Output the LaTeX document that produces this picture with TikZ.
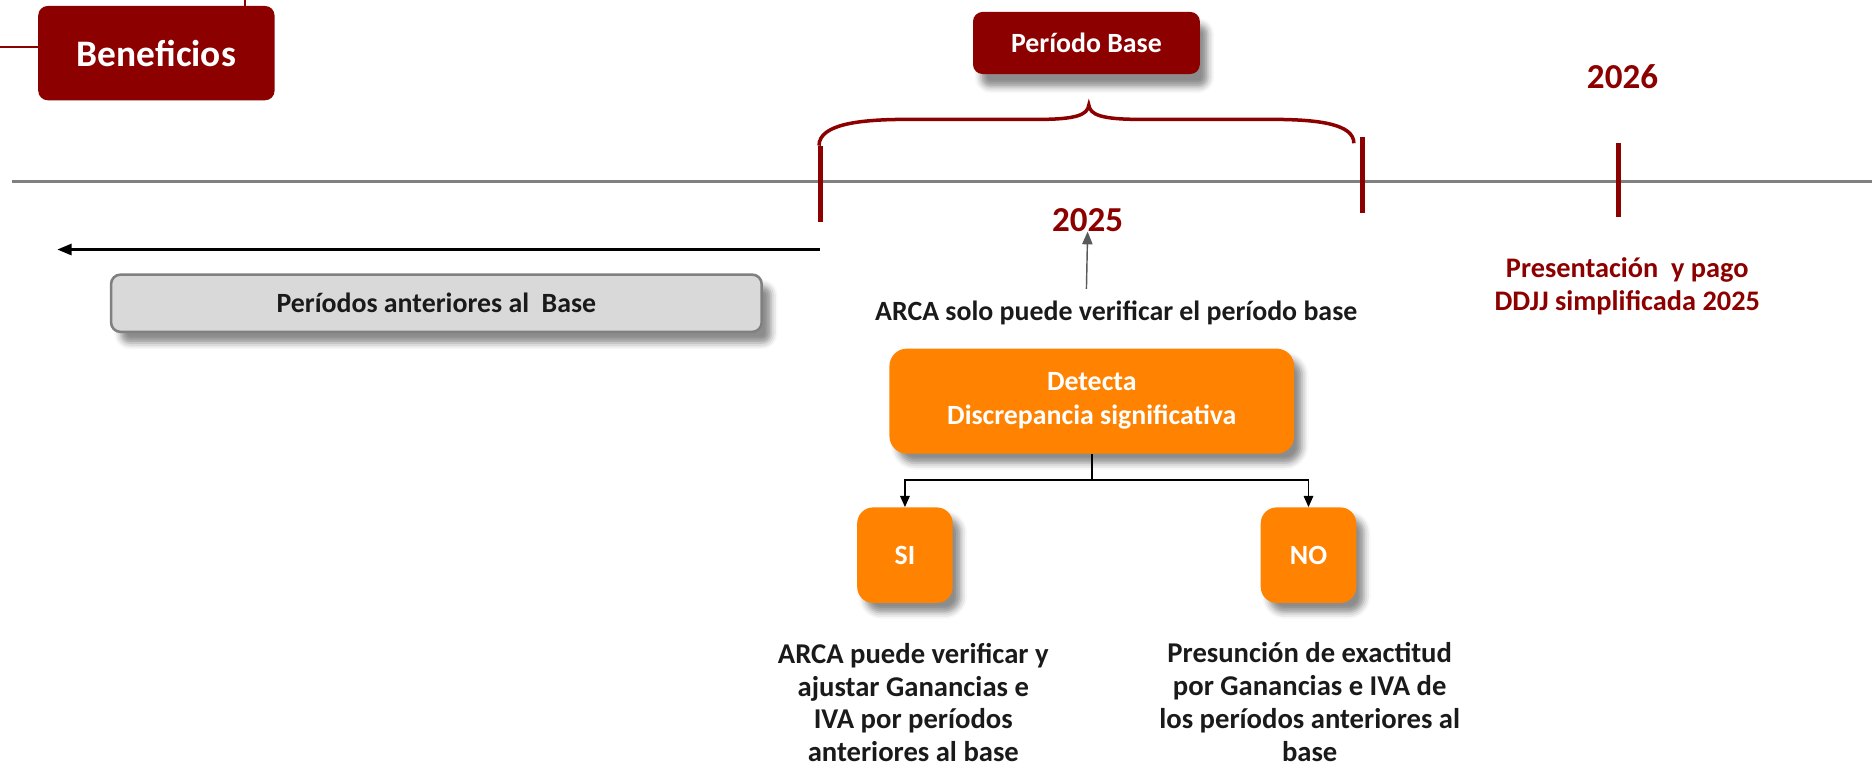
\documentclass[tikz,border=0pt]{standalone}
\usepackage{fontspec}
\setmainfont{Carlito}
\usetikzlibrary{arrows.meta,shadows.blur}
\definecolor{dred}{RGB}{140,0,0}
\definecolor{orng}{RGB}{255,130,0}
\definecolor{lgray}{RGB}{217,217,217}
\definecolor{mgray}{RGB}{128,128,128}
\definecolor{txt}{RGB}{26,26,26}
\tikzset{
  redbox/.style={rounded corners=6pt, fill=dred, text=white, font=\bfseries\fontsize{17.5}{21}\selectfont, inner sep=0pt, align=center},
  orbox/.style={rounded corners=11pt, fill=orng, text=white, font=\bfseries\fontsize{17.5}{21.5}\selectfont, inner sep=0pt, align=center,
     blur shadow={shadow xshift=5pt, shadow yshift=-6pt, shadow blur radius=4pt, shadow opacity=45}},
  graybox/.style={rounded corners=6pt, fill=lgray, draw=mgray, line width=1.6pt, text=txt, font=\bfseries\fontsize{17.5}{21}\selectfont, inner sep=0pt,
     blur shadow={shadow xshift=6pt, shadow yshift=-7pt, shadow blur radius=4pt, shadow opacity=45}},
  plain/.style={text=txt, font=\bfseries\fontsize{17.5}{21}\selectfont, align=center, inner sep=0pt},
  bottomtext/.style={text=txt, font=\bfseries\fontsize{18}{20.6}\selectfont, align=center, inner sep=0pt},
  redtext/.style={text=dred, font=\bfseries\fontsize{17.8}{21}\selectfont, align=center, inner sep=0pt},
  yeartext/.style={text=dred, font=\bfseries\fontsize{22}{26}\selectfont, inner sep=0pt},
  tick/.style={draw=dred, line width=3.2pt},
  timeline/.style={draw=mgray, line width=2pt},
  thinred/.style={draw=dred, line width=1.2pt},
  conn/.style={draw=black, line width=0.9pt, -{Triangle[length=7pt,width=6pt]}},
}
\begin{document}
\begin{tikzpicture}[x=0.75pt,y=-0.75pt]
\useasboundingbox (0,0) rectangle (1568,641);
% timeline
\coordinate (tlL) at (10,152);
\coordinate (tlR) at (1568,152);
\draw[timeline] (tlL) -- (tlR);
% ticks
\coordinate (t1a) at (687,122); \coordinate (t1b) at (687,186);
\coordinate (t2a) at (1141,115); \coordinate (t2b) at (1141,178);
\coordinate (t3a) at (1356,120); \coordinate (t3b) at (1356,182);
\draw[tick] (t1a) -- (t1b);
\draw[tick] (t2a) -- (t2b);
\draw[tick] (t3a) -- (t3b);
% brace
\draw[dred, line width=2.2pt] (686,122) .. controls (686,104) and (720,100) .. (760,100)
  -- (870,100) .. controls (902,100) and (911,96) .. (912,88)
  .. controls (913,96) and (922,100) .. (955,100)
  -- (1065,100) .. controls (1105,100) and (1134,104) .. (1134,120);
% Beneficios
\node[redbox, minimum width=148.5pt, minimum height=59.25pt, font=\bfseries\fontsize{23.5}{27}\selectfont] (ben) at (131,44.5) {Beneficios};
\coordinate (benL) at (0,39);
\coordinate (benT) at (205,0);
\draw[thinred] (benL) -- (benL -| ben.west);
\draw[thinred] (benT) -- (benT |- ben.north);
% Periodo Base
\node[redbox, minimum width=142.5pt, minimum height=39pt,
  blur shadow={shadow xshift=5pt, shadow yshift=-8pt, shadow blur radius=4pt, shadow opacity=45}] (pb) at (910,36) {Período Base};
% years
\node[yeartext] (y25) at (911,184) {2025};
\node[yeartext] (y26) at (1359,64) {2026};
% left arrow
\coordinate (arS) at (687,209);
\coordinate (arE) at (48,209);
\draw[line width=1.6pt, -{Triangle[length=9pt,width=7pt]}] (arS) -- (arE);
% periods before
\node[graybox, minimum width=408.75pt, minimum height=36pt] (ant) at (365.5,254) {Períodos anteriores al\ \ Base};
% ARCA solo
\node[plain] (arca) at (935,262) {ARCA solo puede verificar el período base};
\coordinate (upS) at (910,242);
\draw[draw=mgray!70!black, line width=0.9pt, -{Triangle[length=8pt,width=6.5pt]}] (upS) -- (y25.south);
% Detecta
\node[orbox, minimum width=254.25pt, minimum height=66pt] (det) at (914.5,336) {Detecta\\Discrepancia significativa};
\node[orbox, rounded corners=10pt, minimum width=60pt, minimum height=60pt] (si) at (758,465) {SI};
\node[orbox, rounded corners=10pt, minimum width=60pt, minimum height=60pt] (no) at (1096,465) {NO};
\coordinate (jn) at (914.5,402);
\draw[line width=0.9pt] (det.south) -- (jn);
\draw[conn] (jn) -| (si.north);
\draw[conn] (jn) -| (no.north);
% bottom texts
\node[bottomtext] (siT) at (765,588.5) {ARCA puede verificar y\\ajustar Ganancias e\\IVA por períodos\\anteriores al base};
\node[bottomtext] (noT) at (1097,588) {Presunción de exactitud\\por Ganancias e IVA de\\los períodos anteriores al\\base};
% presentacion
\node[redtext] (pres) at (1363,240) {Presentación\ \ y pago\\DDJJ simplificada 2025};
\end{tikzpicture}
\end{document}
